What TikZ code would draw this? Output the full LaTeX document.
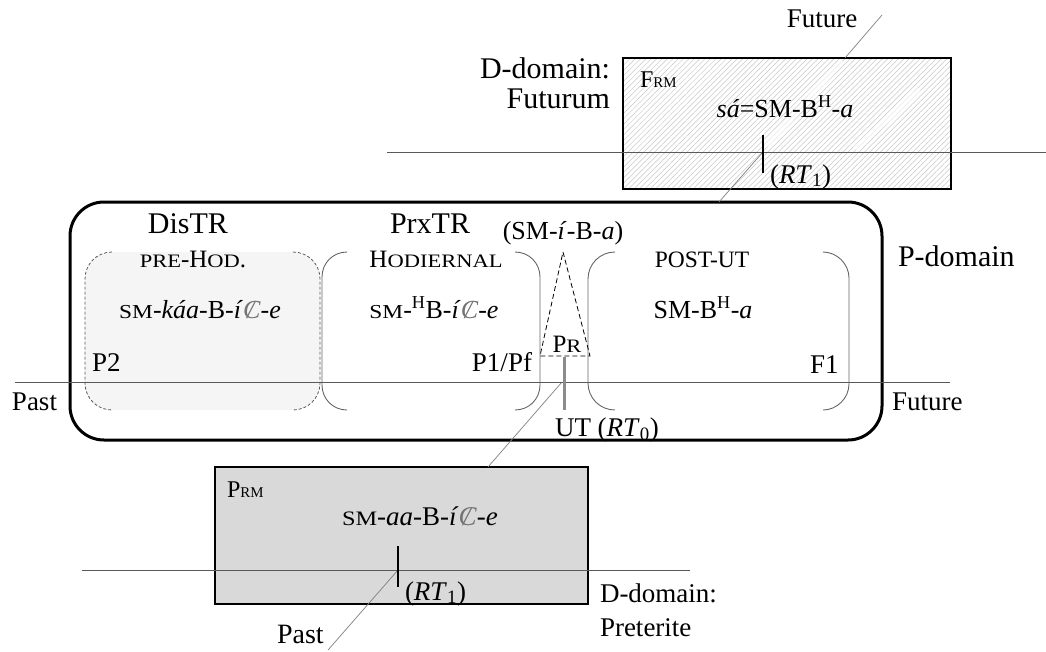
\documentclass[tikz,border=0pt]{standalone}
\usepackage{fontspec}
\usepackage{graphicx}
\setmainfont{Liberation Serif}
\usetikzlibrary{patterns.meta}
\newcommand\smc[1]{\scalebox{0.9}[0.76]{#1}}
\newcommand\cst{\textcolor{black!55}{\ooalign{\textit{C}\cr\hidewidth\textit{/}\hidewidth\cr}}}
\begin{document}
\begin{tikzpicture}[x=1pt,y=-1pt,
  every node/.style={inner sep=0pt,outer sep=0pt},
  big/.style={font=\fontsize{27}{30}\selectfont},
  head/.style={font=\fontsize{30}{32}\selectfont},
  form/.style={font=\fontsize{26}{28}\selectfont},
  scf/.style={font=\fontsize{25}{27}\selectfont},
  rm/.style={font=\fontsize{24}{26}\selectfont},
  bracket/.style={draw=black!60,line width=0.9pt},
  dbracket/.style={draw=black!65,line width=0.8pt,dash pattern=on 3pt off 2pt},
  timeline/.style={draw=black!65,line width=1pt},
  diag/.style={draw=black!50,line width=0.7pt},
  tick/.style={draw=black,line width=2pt},
  band/.style={draw=white,line width=6pt,opacity=0.6}]
\useasboundingbox (0,0) rectangle (1046,651);

% ---- top D-domain box (Futurum)
\draw[line width=1.3pt,pattern={Lines[angle=45,distance=3.8pt,line width=0.5pt]},pattern color=black!22]
  (623,58) rectangle (951,189);
\draw[band] (767,146) -- (842,61);
\draw[band] (855,149) -- (920,90);

% ---- bottom D-domain box (Preterite)
\draw[line width=1.3pt,fill=black!15] (215,467) rectangle (588,604);

% ---- P-domain
\draw[line width=3pt,rounded corners=34pt] (70,202) rectangle (882,440);
\fill[fill=black!4,rounded corners=27pt] (85,252) rectangle (320,410);
\draw[dbracket] (112,252) .. controls (97,252) and (85,264) .. (85,279) -- (85,383) .. controls (85,398) and (97,410) .. (112,410);
\draw[dbracket] (293,252) .. controls (308,252) and (320,264) .. (320,279) -- (320,383) .. controls (320,398) and (308,410) .. (293,410);
\draw[bracket] (347,252) .. controls (333,252) and (322,263) .. (322,277) -- (322,385) .. controls (322,399) and (333,410) .. (347,410);
\draw[bracket] (515,252) .. controls (529,252) and (540,263) .. (540,277) -- (540,385) .. controls (540,399) and (529,410) .. (515,410);
\draw[bracket] (615,252) .. controls (600,252) and (588,264) .. (588,279) -- (588,383) .. controls (588,398) and (600,410) .. (615,410);
\draw[bracket] (823,252) .. controls (837,252) and (849,264) .. (849,278) -- (849,384) .. controls (849,398) and (837,410) .. (823,410);
\draw[line width=0.8pt,dash pattern=on 5pt off 3pt] (563,252) -- (590,356) -- (540,356) -- cycle;

% ---- diagonal (time axis through the domains)
\coordinate (dA) at (328,650);
\coordinate (dB) at (398,570);
\coordinate (dC) at (488,467);
\coordinate (dD) at (562,382);
\coordinate (dE) at (719,202);
\coordinate (dF) at (763,152);
\coordinate (dG) at (845,58);
\coordinate (dH) at (882,15);
\draw[diag] (dA) -- (dB);
\draw[diag] (dC) -- (dD);
\draw[diag] (dE) -- (dF);
\draw[diag] (dG) -- (dH);

% ---- timelines
\draw[timeline] (387,152) -- (1046,152);
\draw[timeline] (15,382) -- (950,382);
\draw[timeline] (82,570) -- (690,570);

% ---- ticks
\draw[tick] (763,135) -- (763,173);
\draw[tick] (398,546) -- (398,587);
\draw[draw=black!45,line width=3pt] (564,357) -- (564,410);

% ---- top box texts
\node[head,anchor=base east] (dd1) at (610,78) {D-domain:};
\node[head,anchor=base east] (dd2) at (610,108) {Futurum};
\node[rm,anchor=base west] (frm) at (640,87) {F\scalebox{0.62}{RM}};
\node[form,anchor=base] (sa) at (785,117) {\textit{sá}=SM-B\textsuperscript{H}-\textit{a}};
\node[big,anchor=base west] (rt1t) at (770,183) {(\textit{RT}\textsubscript{1})};
\node[big,anchor=base] (futtop) at (822,27) {Future};

% ---- P-domain texts
\node[head,anchor=base] (distr) at (188,233) {DisTR};
\node[head,anchor=base] (prxtr) at (430,233) {PrxTR};
\node[form,anchor=base] (sib) at (563,239) {(SM-\textit{í}-B-\textit{a})};
\node[scf,anchor=base] (prehod) at (193,267) {\smc{PRE}-H\smc{OD}.};
\node[scf,anchor=base] (hod) at (436,267) {H\smc{ODIERNAL}};
\node[font=\fontsize{23.5}{25}\selectfont,anchor=base] (postut) at (702,267) {POST-UT};
\node[form,anchor=base] (fk) at (200,318) {\smc{SM}-\textit{káa}-B-\textit{í}\cst-\textit{e}};
\node[form,anchor=base] (fh) at (434,318) {\smc{SM}-\textsuperscript{H}B-\textit{í}\cst-\textit{e}};
\node[form,anchor=base] (fb) at (703,318) {SM-B\textsuperscript{H}-\textit{a}};
\node[big,anchor=base west] (p2) at (92,371) {P2};
\node[big,anchor=base east] (p1) at (532,371) {P1/Pf};
\node[big,anchor=base west] (f1) at (810,373) {F1};
\node[scf,anchor=base] (pr) at (567,352) {P\smc{R}};
\node[big,anchor=base west] (ut) at (555,436) {UT (\textit{RT}\textsubscript{0})};
\node[head,anchor=base west] (pdom) at (898,266) {P-domain};
\node[big,anchor=base west] (pastm) at (12,410) {Past};
\node[big,anchor=base west] (futm) at (892,410) {Future};

% ---- bottom box texts
\node[rm,anchor=base west] (prm) at (227,497) {P\scalebox{0.62}{RM}};
\node[font=\fontsize{27}{28}\selectfont,anchor=base] (faa) at (420,525) {\smc{SM}-\textit{aa}-B-\textit{í}\cst-\textit{e}};
\node[big,anchor=base west] (rt1b) at (405,600) {(\textit{RT}\textsubscript{1})};
\node[font=\fontsize{28}{30}\selectfont,anchor=base west] (pastb) at (277,643) {Past};
\node[big,anchor=base west] (dd3) at (600,602) {D-domain:};
\node[big,anchor=base west] (dd4) at (600,636) {Preterite};
\end{tikzpicture}
\end{document}
